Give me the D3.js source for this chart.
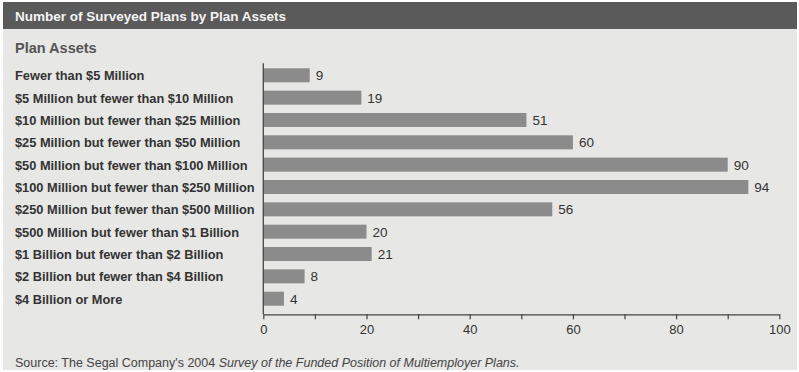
<!DOCTYPE html>
<html><head><meta charset="utf-8">
<script src="https://cdn.jsdelivr.net/npm/d3@7"></script>
<style>
html,body{margin:0;padding:0;background:#fff;}
svg{display:block;font-family:"Liberation Sans",Arial,sans-serif;}
</style></head>
<body>
<svg id="c" width="799" height="372"></svg>
<script>
const categories = [
  "Fewer than $5 Million",
  "$5 Million but fewer than $10 Million",
  "$10 Million but fewer than $25 Million",
  "$25 Million but fewer than $50 Million",
  "$50 Million but fewer than $100 Million",
  "$100 Million but fewer than $250 Million",
  "$250 Million but fewer than $500 Million",
  "$500 Million but fewer than $1 Billion",
  "$1 Billion but fewer than $2 Billion",
  "$2 Billion but fewer than $4 Billion",
  "$4 Billion or More"
];
const values = [9, 19, 51, 60, 90, 94, 56, 20, 21, 8, 4];
const tickValues = [0, 20, 40, 60, 80, 100];
const minorTicks = [10, 30, 50, 70, 90];
const title = "Number of Surveyed Plans by Plan Assets";
const axisTitle = "Plan Assets";

const svg = d3.select("#c");
svg.append("rect").attr("x",3).attr("y",2).attr("width",794).attr("height",368).attr("fill","#e7e7e5");
svg.append("rect").attr("x",3).attr("y",2).attr("width",794).attr("height",27).attr("fill","#5a5a5a");
svg.append("text").attr("x",15).attr("y",21).attr("fill","#f4f4f4")
  .attr("font-size",13.5).attr("font-weight","bold").text(title);
svg.append("text").attr("x",15).attr("y",53).attr("fill","#555")
  .attr("font-size",14.5).attr("font-weight","bold").text(axisTitle);

const x = d3.scaleLinear().domain([0,100]).range([263.3,779.3]);
const pi = 0.373;
const y = d3.scaleBand().domain(categories).range([64.13,309.87]).paddingInner(pi).paddingOuter(pi/2);

const g = svg.append("g");
g.selectAll("rect.bar").data(values).join("rect").attr("class","bar")
  .attr("x",x(0)).attr("y",(d,i)=>y(categories[i]))
  .attr("width",d=>x(d)-x(0)).attr("height",y.bandwidth())
  .attr("fill","#8b8b8b");
g.selectAll("text.val").data(values).join("text").attr("class","val")
  .attr("x",d=>x(d)+6).attr("y",(d,i)=>y(categories[i])+y.bandwidth()/2+5)
  .attr("font-size",13.5).attr("fill","#333").text(d=>d);
g.selectAll("text.cat").data(categories).join("text").attr("class","cat")
  .attr("x",15).attr("y",d=>y(d)+y.bandwidth()/2+5)
  .attr("font-size",12.8).attr("font-weight","bold").attr("fill","#333").text(d=>d);

svg.append("line").attr("x1",x(0)).attr("x2",x(0)).attr("y1",63.3).attr("y2",314.3)
  .attr("stroke","#444").attr("stroke-width",1.3);

const axis = d3.axisBottom(x).tickValues(tickValues.concat(minorTicks).sort((a,b)=>a-b))
  .tickSize(5).tickSizeOuter(0).tickFormat(d=>tickValues.includes(d)?d:"");
const ax = svg.append("g").attr("transform","translate(0,314.3)").call(axis);
ax.select(".domain").attr("stroke","#444").attr("stroke-width",1.3);
ax.selectAll(".tick line").attr("stroke","#444").attr("stroke-width",1.2);
ax.selectAll(".tick text").attr("font-size",13).attr("fill","#333")
  .attr("font-family","Liberation Sans, Arial, sans-serif").attr("dy","0").attr("y",20);

const src = svg.append("text").attr("x",15).attr("y",367).attr("font-size",12.5).attr("fill","#444");
src.append("tspan").text("Source: The Segal Company's 2004 ");
src.append("tspan").attr("font-style","italic").text("Survey of the Funded Position of Multiemployer Plans.");
</script>
</body></html>
